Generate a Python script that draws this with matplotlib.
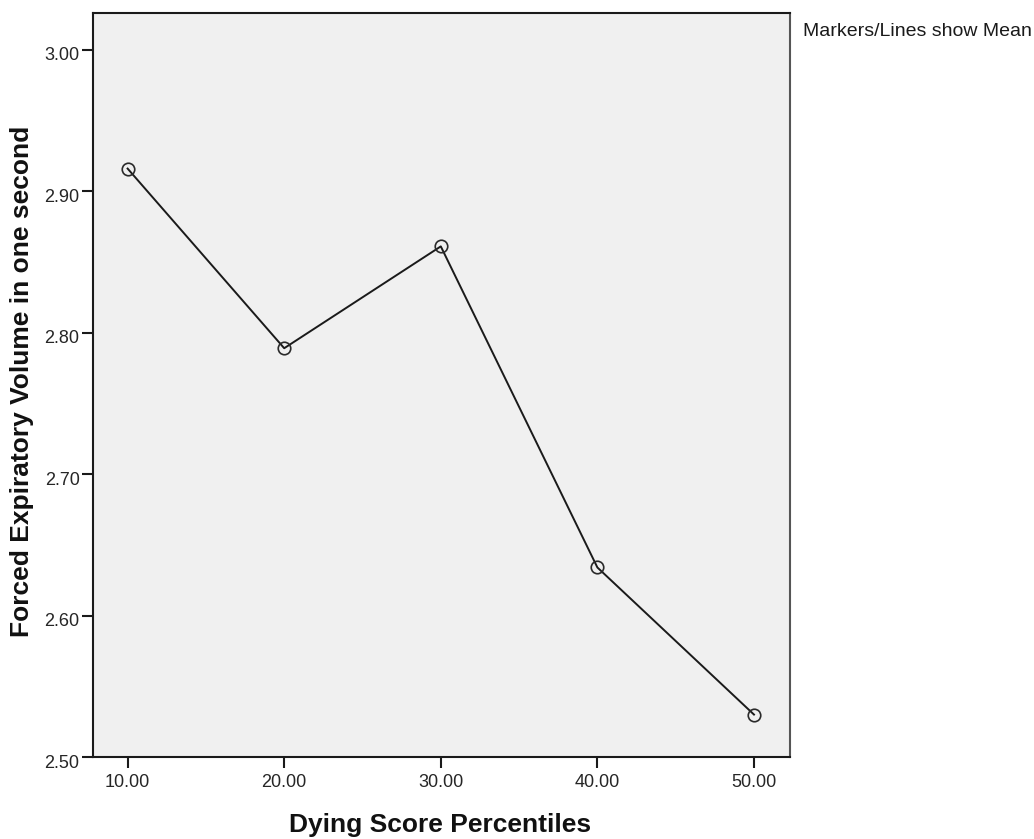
import matplotlib
matplotlib.use("Agg")
import matplotlib.pyplot as plt
from matplotlib.transforms import ScaledTranslation

plt.rcParams['font.family'] = ['Liberation Sans', 'DejaVu Sans']

x_values = [10, 20, 30, 40, 50]
x_labels = ["10.00", "20.00", "30.00", "40.00", "50.00"]
mean_fev1 = [2.916, 2.789, 2.861, 2.634, 2.530]
y_ticks = [2.50, 2.60, 2.70, 2.80, 2.90, 3.00]
y_labels = ["2.50", "2.60", "2.70", "2.80", "2.90", "3.00"]

W, H = 1034, 839
fig = plt.figure(figsize=(W / 100, H / 100), dpi=100)
ax = fig.add_axes([92.7 / W, 1 - 757 / H, (790 - 92.7) / W, (757 - 13) / H])
ax.set_facecolor('#f0f0f0')

ax.plot(x_values, mean_fev1, color='#1a1a1a', linewidth=1.4,
        marker='o', markersize=9, markerfacecolor='none',
        markeredgecolor='#2a2a2a', markeredgewidth=1.2)

ax.set_xlim(7.77, 52.3)
ax.set_ylim(2.50, 3.026)
ax.set_xticks(x_values)
ax.set_xticklabels(x_labels)
ax.set_yticks(y_ticks)
ax.set_yticklabels(y_labels)

ax.tick_params(axis='both', direction='out', length=8, width=1.5,
               labelsize=13, colors='#1a1a1a', labelcolor='#262626')
ax.tick_params(axis='x', pad=4)
ax.tick_params(axis='y', pad=1.5)
off = ScaledTranslation(0, -4 / 100, fig.dpi_scale_trans)
for lab in ax.get_yticklabels():
    lab.set_transform(lab.get_transform() + off)

for s in ax.spines.values():
    s.set_color('#1a1a1a')
    s.set_linewidth(1.5)
ax.spines['right'].set_color('#555555')

fig.text(440 / W, 1 - 832 / H, "Dying Score Percentiles", fontsize=19,
         fontweight='bold', ha='center', va='baseline', color='#111111')
fig.text(10 / W, 1 - 381 / H, "Forced Expiratory Volume in one second",
         fontsize=19, fontweight='bold', rotation=90, ha='left', va='center',
         color='#111111')

fig.text(803 / W, 1 - 31 / H, "Markers/Lines show Mean", fontsize=14,
         color='#1a1a1a', ha='left', va='center')

fig.savefig("out.png", dpi=100)
